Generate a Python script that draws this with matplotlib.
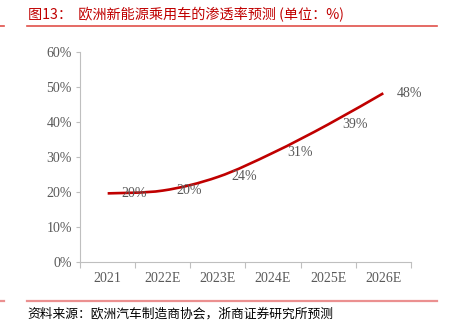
import numpy as np
import matplotlib.pyplot as plt
from matplotlib.path import Path
from matplotlib.patches import PathPatch
from matplotlib.ticker import FixedLocator, PercentFormatter

plt.rcParams['font.family'] = ['Liberation Serif', 'Noto Sans CJK SC']

# data
years = ['2021', '2022E', '2023E', '2024E', '2025E', '2026E']
penetration = [19.6, 20.4, 24.3, 31.2, 39.3, 48.2]
labels = ['20%', '20%', '24%', '31%', '39%', '48%']

red = '#C00000'
grey = '#595959'

fig = plt.figure(figsize=(4.5, 3.31), dpi=100)
ax = fig.add_axes([0.178, 0.2085, 0.735, 0.6345])

x = np.arange(len(years))
y = np.array(penetration)

# Excel-style smoothed line (cubic bezier through the points)
px = np.concatenate([[x[0]], x, [x[-1]]])
py = np.concatenate([[y[0]], y, [y[-1]]])
verts = [(x[0], y[0])]
codes = [Path.MOVETO]
for i in range(1, len(px) - 2):
    c1 = (px[i] + (px[i + 1] - px[i - 1]) / 6, py[i] + (py[i + 1] - py[i - 1]) / 6)
    c2 = (px[i + 1] - (px[i + 2] - px[i]) / 6, py[i + 1] - (py[i + 2] - py[i]) / 6)
    verts += [c1, c2, (px[i + 1], py[i + 1])]
    codes += [Path.CURVE4] * 3
ax.add_patch(PathPatch(Path(verts, codes), facecolor='none', edgecolor=red,
                       linewidth=1.9, capstyle='butt'))

for xi, yi, lab in zip(x, y, labels):
    ax.annotate(lab, (xi, yi), xytext=(10, 0), textcoords='offset points',
                ha='left', va='center', fontsize=10, color=grey)

ax.set_xlim(-0.5, 5.5)
ax.set_ylim(0, 60)
ax.set_xticks(x)
ax.set_xticklabels(years)
ax.xaxis.set_minor_locator(FixedLocator(np.arange(-0.5, 6, 1)))
ax.tick_params(axis='x', which='major', length=0, pad=7, labelsize=10, labelcolor=grey)
ax.tick_params(axis='x', which='minor', length=4, width=0.8, color='#BFBFBF')
ax.set_yticks(np.arange(0, 61, 10))
ax.yaxis.set_major_formatter(PercentFormatter(decimals=0))
ax.tick_params(axis='y', length=3, width=0.8, color='#BFBFBF', labelsize=10,
               labelcolor=grey, pad=3)

for s in ['top', 'right']:
    ax.spines[s].set_visible(False)
for s in ['left', 'bottom']:
    ax.spines[s].set_color('#BFBFBF')
    ax.spines[s].set_linewidth(0.8)

# header / footer
fig.text(28 / 450, 1 - 15 / 331, '图13：  欧洲新能源乘用车的渗透率预测 (单位：%)',
         fontsize=10.2, color=red, va='center', ha='left',
         family=['Noto Sans CJK SC', 'DejaVu Sans'])
fig.text(27 / 450, 1 - 314 / 331, '资料来源：欧洲汽车制造商协会，浙商证券研究所预测',
         fontsize=9.2, color='black', va='center', ha='left',
         family=['Noto Sans CJK SC', 'DejaVu Sans'])

ln_top = 1 - 26 / 331
fig.add_artist(plt.Line2D([27 / 450, 437 / 450], [ln_top, ln_top], color='#E0504A', lw=1.2))
fig.add_artist(plt.Line2D([0, 4 / 450], [ln_top, ln_top], color='#E0504A', lw=1.2))
ln_bot = 1 - 300.5 / 331
fig.add_artist(plt.Line2D([27 / 450, 437 / 450], [ln_bot, ln_bot], color='#EB9090', lw=1.6))
fig.add_artist(plt.Line2D([0, 4 / 450], [ln_bot, ln_bot], color='#EB9090', lw=1.6))

fig.savefig('out.png', dpi=100)
